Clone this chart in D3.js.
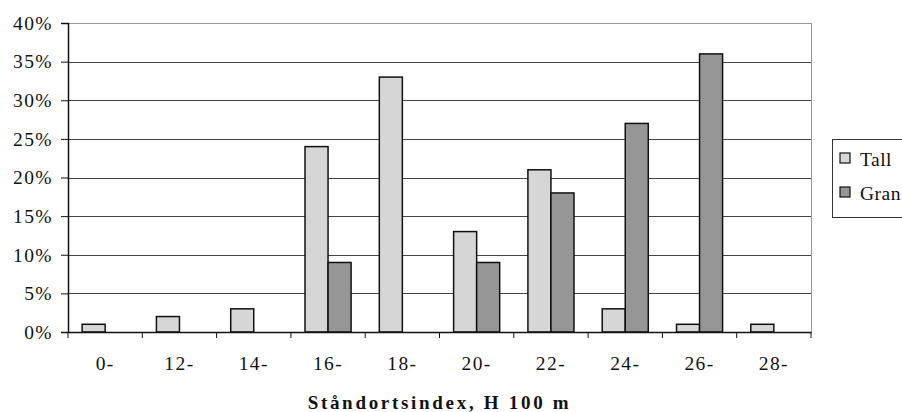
<!DOCTYPE html>
<html>
<head>
<meta charset="utf-8">
<script src="https://cdn.jsdelivr.net/npm/d3@7"></script>
<style>
  body { margin: 0; background: #fff; }
  text { font-family: "Liberation Serif", "Times New Roman", serif; fill: #111; }
  .tick text { font-size: 19.5px; letter-spacing: 1.4px; }
</style>
</head>
<body>
<div id="chart"></div>
<script>
var categories = ["0-", "12-", "14-", "16-", "18-", "20-", "22-", "24-", "26-", "28-"];
var tallValues = [1, 2, 3, 24, 33, 13, 21, 3, 1, 1];
var granValues = [0, 0, 0, 9, 0, 9, 18, 27, 36, 0];
var seriesNames = ["Tall", "Gran"];
var seriesColors = ["#d6d6d6", "#969696"];
var yTicks = [0, 5, 10, 15, 20, 25, 30, 35, 40];

var W = 902, H = 412;
var margin = {top: 23, right: 91, bottom: 80, left: 68},
    width = W - margin.left - margin.right,
    height = H - margin.top - margin.bottom;

var svg = d3.select("#chart").append("svg")
    .attr("width", W)
    .attr("height", H);
var g = svg.append("g")
    .attr("transform", "translate(" + margin.left + "," + margin.top + ")");

var x = d3.scaleBand()
    .domain(categories)
    .range([0, width])
    .paddingInner(0.38)
    .paddingOuter(0.19);
var x1 = d3.scaleBand()
    .domain(seriesNames)
    .range([0, x.bandwidth()]);
var y = d3.scaleLinear()
    .domain([0, 40])
    .range([height, 0]);

// gridlines
g.selectAll(".grid")
    .data(yTicks)
    .enter().append("line")
    .attr("class", "grid")
    .attr("x1", 0)
    .attr("x2", width)
    .attr("y1", function(d) { return Math.round(y(d)) + 0.5; })
    .attr("y2", function(d) { return Math.round(y(d)) + 0.5; })
    .attr("stroke", function(d) { return d == 40 ? "#999" : "#444"; })
    .attr("stroke-width", 1);

// right border
g.append("line")
    .attr("x1", width + 0.5).attr("x2", width + 0.5)
    .attr("y1", 0).attr("y2", height)
    .attr("stroke", "#999");

// bars
var rows = categories.map(function(c, i) {
    return {cat: c, vals: [{name: "Tall", v: tallValues[i]}, {name: "Gran", v: granValues[i]}]};
});
var groups = g.selectAll(".cat")
    .data(rows)
    .enter().append("g")
    .attr("class", "cat")
    .attr("transform", function(d) { return "translate(" + x(d.cat) + ",0)"; });
groups.selectAll("rect")
    .data(function(d) { return d.vals.filter(function(s) { return s.v > 0; }); })
    .enter().append("rect")
    .attr("x", function(d) { return x1(d.name); })
    .attr("width", x1.bandwidth())
    .attr("y", function(d) { return y(d.v); })
    .attr("height", function(d) { return height - y(d.v); })
    .attr("fill", function(d) { return seriesColors[seriesNames.indexOf(d.name)]; })
    .attr("stroke", "#111")
    .attr("stroke-width", 1.5);

// y axis
var yAxis = d3.axisLeft(y)
    .tickValues(yTicks)
    .tickFormat(function(d) { return d + "%"; })
    .tickSize(7)
    .tickPadding(8);
var ya = g.append("g").attr("class", "y axis").call(yAxis);
ya.select(".domain").attr("stroke", "#111").attr("stroke-width", 1.5);
ya.selectAll(".tick line").attr("stroke", "#111");
ya.selectAll(".tick text").attr("fill", "#111").attr("font-family", null).attr("font-size", null);

// x axis
var xAxis = d3.axisBottom(x).tickSize(0).tickPadding(24);
var xa = g.append("g").attr("class", "x axis")
    .attr("transform", "translate(0," + height + ")")
    .call(xAxis);
xa.select(".domain").attr("stroke", "#111").attr("stroke-width", 1.5);
xa.selectAll(".tick text").attr("fill", "#111").attr("font-family", null).attr("font-size", null);

// category boundary ticks
var step = x.step();
var bounds = categories.map(function(c) { return x(c) - step * x.paddingInner() / 2; });
bounds.push(width);
xa.selectAll(".bound")
    .data(bounds)
    .enter().append("line")
    .attr("class", "bound")
    .attr("x1", function(d) { return d; })
    .attr("x2", function(d) { return d; })
    .attr("y1", 0)
    .attr("y2", 6)
    .attr("stroke", "#111");

// axis title
g.append("text")
    .attr("x", width / 2)
    .attr("y", height + 77)
    .attr("text-anchor", "middle")
    .style("font-size", "19px")
    .style("font-weight", "bold")
    .style("letter-spacing", "2.7px")
    .text("Ståndortsindex, H 100 m");

// legend
var legend = svg.append("g").attr("transform", "translate(832,139)");
legend.append("rect")
    .attr("x", 0.5).attr("y", 0.5)
    .attr("width", 110).attr("height", 78)
    .attr("fill", "#fff")
    .attr("stroke", "#333");
seriesNames.forEach(function(name, i) {
    legend.append("rect")
        .attr("x", 8).attr("y", 14 + i * 34)
        .attr("width", 10).attr("height", 10)
        .attr("fill", seriesColors[i])
        .attr("stroke", "#111")
        .attr("stroke-width", 1.2);
    legend.append("text")
        .attr("x", 28).attr("y", 27 + i * 34)
        .style("font-size", "19.5px")
        .style("letter-spacing", "0.5px")
        .text(name);
});
</script>
</body>
</html>
